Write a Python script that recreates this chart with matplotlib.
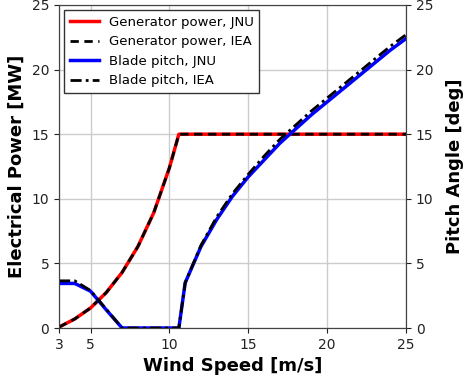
import matplotlib
matplotlib.use("Agg")
import matplotlib.pyplot as plt

wind = [3, 4, 5, 6, 7, 8, 9, 10, 10.6, 11, 12, 13, 14, 15, 16, 17, 18, 19, 20, 21, 22, 23, 24, 25]
power_jnu = [0.07, 0.7, 1.55, 2.75, 4.3, 6.3, 8.9, 12.4, 15.0, 15.0, 15.0, 15.0, 15.0, 15.0, 15.0, 15.0,
             15.0, 15.0, 15.0, 15.0, 15.0, 15.0, 15.0, 15.0]
power_iea = [0.07, 0.7, 1.55, 2.75, 4.3, 6.3, 8.9, 12.4, 15.0, 15.0, 15.0, 15.0, 15.0, 15.0, 15.0, 15.0,
             15.0, 15.0, 15.0, 15.0, 15.0, 15.0, 15.0, 15.0]
pitch_jnu = [3.45, 3.45, 2.85, 1.4, 0.0, 0.0, 0.0, 0.0, 0.0, 3.5, 6.3, 8.4, 10.2, 11.7, 13.0, 14.3,
             15.4, 16.5, 17.5, 18.5, 19.5, 20.5, 21.5, 22.4]
pitch_iea = [3.65, 3.65, 2.9, 1.45, 0.0, 0.0, 0.0, 0.0, 0.0, 3.5, 6.4, 8.6, 10.4, 11.9, 13.3, 14.6,
             15.7, 16.8, 17.8, 18.8, 19.8, 20.8, 21.8, 22.7]

xticks = [3, 5, 10, 15, 20, 25]
yticks = [0, 5, 10, 15, 20, 25]

fig = plt.figure(figsize=(4.64, 3.8), dpi=100)
ax1 = fig.add_axes([59/464, 1-328/380, 347/464, 323/380])
ax2 = ax1.twinx()

l1, = ax1.plot(wind, power_jnu, color='red', lw=2.5, label='Generator power, JNU')
l2, = ax1.plot(wind, power_iea, color='black', lw=2, ls=(0, (3, 2)), label='Generator power, IEA')
l3, = ax2.plot(wind, pitch_jnu, color='blue', lw=2.5, label='Blade pitch, JNU')
l4, = ax2.plot(wind, pitch_iea, color='black', lw=2, ls=(0, (4, 1.5, 1, 1.5)), label='Blade pitch, IEA')

for ax in (ax1, ax2):
    ax.set_xlim(3, 25)
    ax.set_ylim(0, 25)
    ax.set_yticks(yticks)
    ax.tick_params(labelsize=10, colors='#222222')
    for s in ax.spines.values():
        s.set_color('#444444')
ax1.set_xticks(xticks)
ax1.grid(True, color='#cccccc', lw=1)
ax1.set_axisbelow(True)

ax1.set_xlabel('Wind Speed [m/s]', fontsize=13, fontweight='bold')
ax1.set_ylabel('Electrical Power [MW]', fontsize=13, fontweight='bold')
ax2.set_ylabel('Pitch Angle [deg]', fontsize=13, fontweight='bold', labelpad=9)

leg = ax2.legend(handles=[l1, l2, l3, l4], loc='upper left', fontsize=9.5, fancybox=False,
                 edgecolor='#333333', framealpha=1, borderaxespad=0.4, handlelength=2.2)
leg.get_frame().set_linewidth(1)

fig.savefig('out.png', dpi=100)
